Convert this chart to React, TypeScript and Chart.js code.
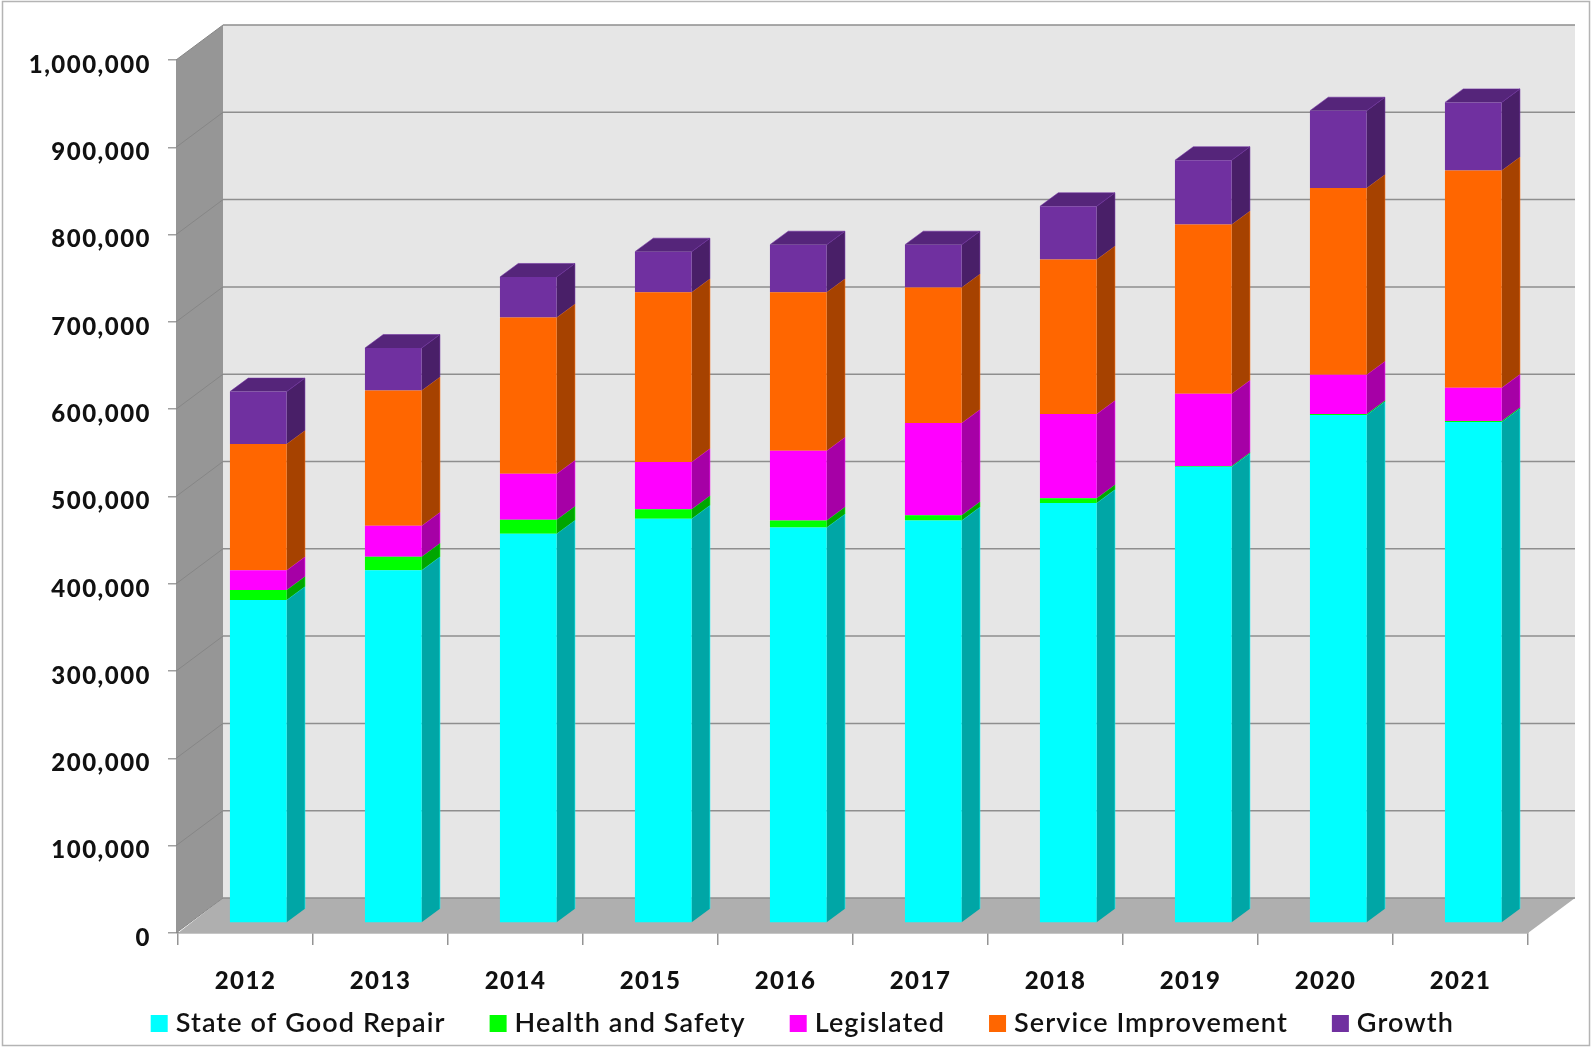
import React, { useEffect, useRef } from "react";
import { Chart, registerables } from "chart.js";

Chart.register(...registerables);

const years = ["2012", "2013", "2014", "2015", "2016", "2017", "2018", "2019", "2020", "2021"];
const stateOfGoodRepair = [370000, 404000, 446000, 463000, 453000, 461000, 481000, 522600, 582000, 574000];
const healthAndSafety = [11400, 15600, 16000, 11000, 8000, 6000, 5600, 1000, 1000, 1000];
const legislated = [22600, 35400, 52500, 54000, 80000, 105600, 96400, 82500, 45000, 38000];
const serviceImprovement = [144700, 155000, 179000, 194500, 181500, 155400, 177000, 194000, 214000, 249000];
const growth = [60000, 48600, 46500, 46500, 54500, 49000, 61000, 73600, 88500, 78000];

const seriesNames = ["State of Good Repair", "Health and Safety", "Legislated", "Service Improvement", "Growth"];
const frontColors = ["#00FFFF", "#00FF00", "#FF00FF", "#FF6600", "#7030A0"];
const sideColors = ["#00A6A6", "#00A600", "#A600A6", "#A64200", "#491F68"];
const topColor = "#55257A";

// Projection offsets of the pseudo-3D box
const WALL_DX = 45;
const WALL_DY = -35;
const BAR_DX = 12.8;
const BAR_DY = -10;
const SIDE_DX = 18.3;
const SIDE_DY = -13.5;

const TEXT_FAMILY = "Lato, sans-serif";

const poly = (ctx: CanvasRenderingContext2D, pts: number[][], fill: string) => {
  ctx.beginPath();
  pts.forEach(([x, y], i) => (i ? ctx.lineTo(x, y) : ctx.moveTo(x, y)));
  ctx.closePath();
  ctx.fillStyle = fill;
  ctx.fill();
};

const edge = (ctx: CanvasRenderingContext2D, pts: number[][], stroke: string) => {
  ctx.save();
  ctx.globalAlpha = 0.55;
  ctx.strokeStyle = stroke;
  ctx.lineWidth = 1;
  ctx.beginPath();
  pts.forEach(([x, y], i) => (i ? ctx.lineTo(x, y) : ctx.moveTo(x, y)));
  ctx.stroke();
  ctx.restore();
};

const boxPlugin = {
  id: "box3d",
  beforeDraw(chart: any) {
    chart.ctx.letterSpacing = "1.5px";
  },
  beforeDatasetsDraw(chart: any) {
    const { ctx, chartArea: a, scales } = chart;
    const y = scales.y;
    const bx = a.left + WALL_DX;
    const rx = a.right + WALL_DX + 2;
    const wl = a.left - 2;
    ctx.save();
    ctx.fillStyle = "#E6E6E6";
    ctx.fillRect(bx, a.top + WALL_DY, rx - bx, a.bottom - a.top);
    poly(ctx, [[wl, a.top], [bx, a.top + WALL_DY], [bx, a.bottom + WALL_DY], [wl, a.bottom]], "#969696");
    poly(ctx, [[a.left, a.bottom], [a.right, a.bottom], [rx, a.bottom + WALL_DY], [bx, a.bottom + WALL_DY]], "#AFAFAF");
    y.ticks.forEach((t: any) => {
      const py = y.getPixelForValue(t.value);
      ctx.strokeStyle = "#8E8E8E";
      ctx.lineWidth = 1.5;
      ctx.beginPath();
      ctx.moveTo(bx, py + WALL_DY);
      ctx.lineTo(rx, py + WALL_DY);
      ctx.stroke();
      ctx.strokeStyle = "#868686";
      ctx.lineWidth = 1;
      ctx.beginPath();
      ctx.moveTo(wl, py);
      ctx.lineTo(bx, py + WALL_DY);
      ctx.stroke();
    });
    ctx.restore();

    ctx.save();
    ctx.translate(BAR_DX, BAR_DY);
    const last = chart.data.datasets.length - 1;
    chart.data.datasets.forEach((_: any, di: number) => {
      chart.getDatasetMeta(di).data.forEach((bar: any) => {
        const p = bar.getProps(["x", "y", "base", "width"]);
        const r = p.x + p.width / 2;
        const xr = r + SIDE_DX;
        poly(ctx, [[r, p.base], [xr, p.base + SIDE_DY], [xr, p.y + SIDE_DY], [r, p.y]], sideColors[di]);
        edge(ctx, [[xr, p.base + SIDE_DY], [xr, p.y + SIDE_DY], [r, p.y]], frontColors[di]);
        if (di === last) {
          const l = p.x - p.width / 2;
          poly(ctx, [[l, p.y], [r, p.y], [xr, p.y + SIDE_DY], [l + SIDE_DX, p.y + SIDE_DY]], topColor);
          edge(ctx, [[l, p.y], [l + SIDE_DX, p.y + SIDE_DY], [xr, p.y + SIDE_DY], [r, p.y]], frontColors[di]);
        }
      });
    });
  },
  afterDatasetsDraw(chart: any) {
    chart.ctx.restore();
  },
  afterDraw(chart: any) {
    const { ctx, width, height } = chart;
    ctx.save();
    // Legend row
    ctx.font = `600 27px ${TEXT_FAMILY}`;
    ctx.letterSpacing = "1.1px";
    ctx.textBaseline = "alphabetic";
    let x = 150.7;
    seriesNames.forEach((name, i) => {
      ctx.fillStyle = frontColors[i];
      ctx.fillRect(x, 1015, 17, 17);
      ctx.fillStyle = "#111111";
      ctx.fillText(name, x + 25, 1032);
      x += 25 + ctx.measureText(name).width + 44;
    });
    // Outer frame
    ctx.strokeStyle = "#B4B4B4";
    ctx.lineWidth = 1.5;
    ctx.strokeRect(2.5, 1.5, width - 4, height - 3);
    ctx.restore();
  },
};

export default function App() {
  const ref = useRef<HTMLCanvasElement>(null);

  useEffect(() => {
    const chart = new Chart(ref.current!, {
      type: "bar",
      data: {
        labels: years,
        datasets: [stateOfGoodRepair, healthAndSafety, legislated, serviceImprovement, growth].map((data, i) => ({
          label: seriesNames[i],
          data,
          backgroundColor: frontColors[i],
          borderWidth: 0,
          categoryPercentage: 1,
          barPercentage: 0.42,
        })),
      },
      options: {
        responsive: false,
        animation: false,
        layout: { padding: { left: 0, top: 60, right: 63, bottom: 0 } },
        plugins: { legend: { display: false }, tooltip: { enabled: false } },
        scales: {
          x: {
            stacked: true,
            afterFit: (s: any) => {
              s.height = 114;
            },
            grid: { drawOnChartArea: false, color: "#949494", lineWidth: 1.5, tickLength: 12 },
            border: { display: true, color: "#8E8E8E", width: 1.5 },
            ticks: {
              color: "#111111",
              font: { family: TEXT_FAMILY, size: 24, weight: "900" },
              padding: 22,
              maxRotation: 0,
            },
          },
          y: {
            stacked: true,
            min: 0,
            max: 1000000,
            afterFit: (s: any) => {
              s.width = 178;
            },
            grid: { drawOnChartArea: false, color: "#A0A0A0", lineWidth: 1.5, tickLength: 10 },
            border: { display: false },
            ticks: {
              stepSize: 100000,
              color: "#111111",
              font: { family: TEXT_FAMILY, size: 24, weight: "900" },
              padding: 17,
              labelOffset: 5,
              callback: (v: any) => Number(v).toLocaleString("en-US"),
            },
          },
        },
      },
      plugins: [boxPlugin],
    } as any);
    return () => chart.destroy();
  }, []);

  return (
    <div style={{ position: "absolute", left: 0, top: 0, width: 1591, height: 1047, background: "#fff" }}>
      <canvas ref={ref} width={1591} height={1047} style={{ display: "block" }} />
    </div>
  );
}
